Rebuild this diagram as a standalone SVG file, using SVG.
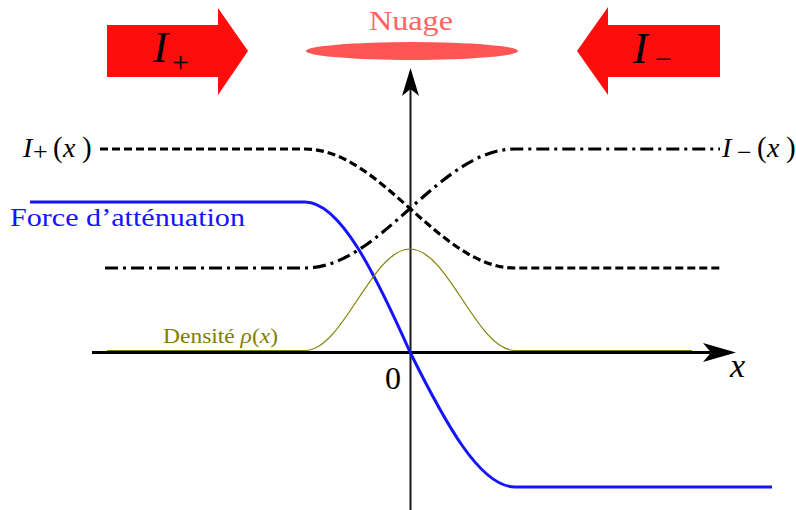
<svg xmlns="http://www.w3.org/2000/svg" width="796" height="510" viewBox="0 0 796 510" font-family="'Liberation Serif', 'DejaVu Serif', serif">
<defs>
<style>
text{font-family:'Liberation Serif','DejaVu Serif',serif;}
.it{font-style:italic;}
.red{fill:#ff0d0d;}
.ip{fill:none;stroke:#000;stroke-width:3.2;stroke-dasharray:8 4;}
.im{fill:none;stroke:#000;stroke-width:3.2;stroke-dasharray:13 5 3 5;}
.force{fill:none;stroke:#1414ff;stroke-width:3;}
.dens{fill:none;stroke:#808000;stroke-width:1.2;}
</style>
</defs>
<rect width="796" height="510" fill="#fff"/>

<g id="arrow-plus">
<polygon class="red" points="107,25 218,25 218,8 248,51 218,95 218,77 107,77"/>
<text class="it" x="153" y="62" font-size="44">I</text>
<text x="172" y="72" font-size="30">+</text>
</g>

<g id="arrow-minus">
<polygon class="red" points="720,25 608,25 608,7 577,51 608,95 608,77 720,77"/>
<text class="it" x="633" y="63" font-size="44">I</text>
<text x="655" y="69" font-size="30">−</text>
</g>

<g id="nuage">
<text x="411" y="30" font-size="28" fill="#ff6464" text-anchor="middle" textLength="84" lengthAdjust="spacingAndGlyphs">Nuage</text>
<ellipse cx="412" cy="51" rx="106" ry="9" fill="#ff5555"/>
</g>

<g id="connectors">
<line x1="92" y1="352.5" x2="712" y2="352.5" stroke="#000" stroke-width="3"/>
<polygon points="736,352.5 703,343 711,352.5 703,362" fill="#000"/>
<line x1="410.5" y1="510" x2="410.5" y2="88" stroke="#1a1a1a" stroke-width="2"/>
<polygon points="410.5,68 419,96 410.5,89 402,96" fill="#000"/>
</g>

<g id="I-plus">
<path class="ip" d="M100,149 L305,149 C381.3,149 438.7,268 515,268 L720,268"/>
<text y="157" font-size="28"><tspan class="it" x="23">I</tspan><tspan x="33" y="160" font-size="26">+</tspan><tspan x="53" y="157" font-size="29">(</tspan><tspan class="it" x="63">x</tspan><tspan x="82" font-size="29">)</tspan></text>
</g>

<g id="I-minus">
<path class="im" d="M105,268 L305,268 C381.3,268 438.7,149 515,149 L720,149"/>
<text y="157" font-size="28"><tspan class="it" x="722">I</tspan><tspan x="737" y="161" font-size="26">−</tspan><tspan x="757" y="157" font-size="29">(</tspan><tspan class="it" x="767">x</tspan><tspan x="786" font-size="29">)</tspan></text>
</g>

<g id="force">
<path class="force" d="M30,202 L305,202 C340,202 375,273.4 410,352 C445,422.7 480,487 515,487 L772,487"/>
<text x="10" y="226" font-size="25" fill="#1414ff" textLength="235" lengthAdjust="spacingAndGlyphs">Force d’atténuation</text>
</g>

<g id="densite">
<path class="dens" d="M107,350.5 L305,350.5 C343.2,350.5 371.8,249 410,249 C448.2,249 476.8,350.5 515,350.5 L692,350.5"/>
<text x="163" y="343" font-size="20" fill="#808000" textLength="115" lengthAdjust="spacingAndGlyphs">Densité <tspan class="it">ρ</tspan>(<tspan class="it">x</tspan>)</text>
</g>

<g id="labels">
<text x="385" y="389" font-size="32">0</text>
<text class="it" x="730" y="377" font-size="34">x</text>
</g>
</svg>
